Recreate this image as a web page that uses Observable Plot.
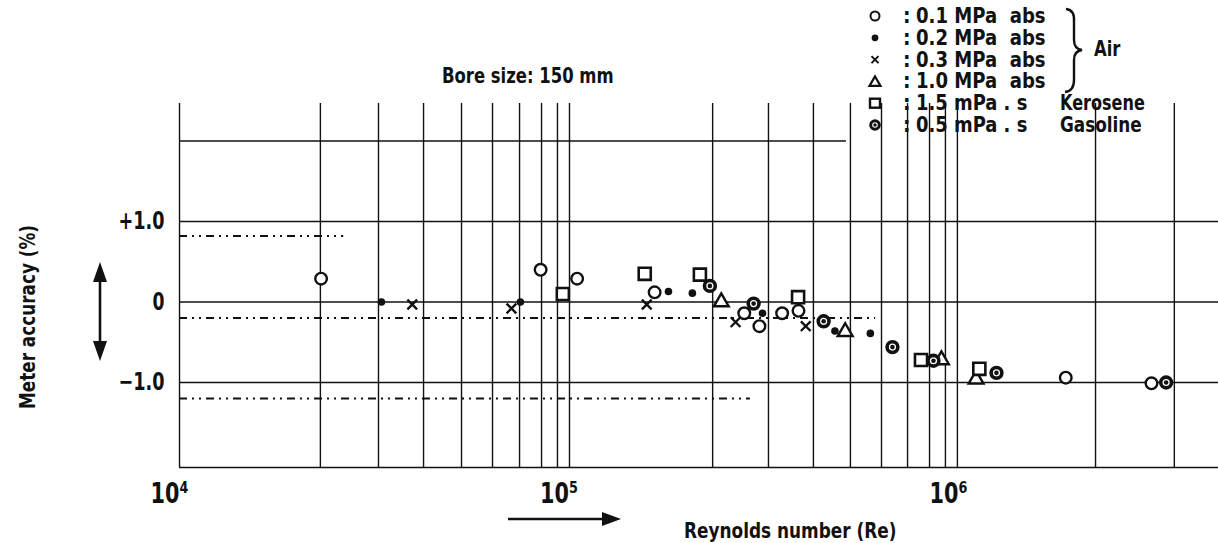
<!DOCTYPE html>
<html><head><meta charset="utf-8">
<script src="https://cdn.jsdelivr.net/npm/d3@7"></script>
<script src="https://cdn.jsdelivr.net/npm/@observablehq/plot@0.6"></script>
<style>
body{margin:0;background:#fff;}
#wrap{position:relative;width:1218px;height:543px;overflow:hidden;font-family:"Liberation Sans Narrow","DejaVu Sans Condensed","Roboto Condensed","DejaVu Sans",sans-serif;font-weight:bold;color:#111;}
.t{position:absolute;white-space:pre;line-height:22px;transform-origin:0 50%;}
#deco{position:absolute;left:0;top:0;}
</style></head><body><div id="wrap"></div>
<script>
// ---- data (Reynolds number, meter accuracy %) ----
const re01 = [2.45e4, 8.97e4, 1.113e5, 1.76e5, 2.99e5, 3.27e5, 3.74e5, 4.12e5, 2.0e6, 3.32e6];
const acc01 = [0.29, 0.40, 0.29, 0.12, -0.14, -0.30, -0.14, -0.11, -0.94, -1.01];
const re02 = [3.50e4, 7.96e4, 1.91e5, 2.20e5, 3.33e5, 5.11e5, 6.30e5];
const acc02 = [0.00, 0.00, 0.13, 0.11, -0.14, -0.36, -0.39];
const re03 = [4.20e4, 7.55e4, 1.68e5, 2.84e5, 4.30e5];
const acc03 = [-0.03, -0.08, -0.03, -0.25, -0.30];
const re10 = [2.61e5, 5.43e5, 9.59e5, 1.177e6];
const acc10 = [0.00, -0.37, -0.72, -0.96];
const reKer = [1.023e5, 1.66e5, 2.30e5, 4.11e5, 8.50e5, 1.20e6];
const accKer = [0.10, 0.35, 0.34, 0.06, -0.72, -0.83];
const reGas = [2.44e5, 3.16e5, 4.78e5, 7.18e5, 9.15e5, 1.328e6, 3.62e6];
const accGas = [0.20, -0.02, -0.24, -0.56, -0.73, -0.88, -1.00];

// grid of the original chart sheet
const gridRe = [1.061e4, 2.44e4, 3.44e4, 4.49e4, 5.62e4, 6.75e4, 7.92e4, 9.02e4, 9.91e4, 1.064e5,
                2.48e5, 3.45e5, 4.50e5, 5.60e5, 6.73e5, 7.85e5, 8.94e5, 9.82e5, 1.054e6, 2.385e6, 3.80e6];
const hLevels = [2.0, 1.0, 0, -1.0];
const hEnds = [5.47e5, 4.934e6, 4.934e6, 4.934e6];
const refLevels = [0.82, -0.2, -1.2];
const refEnds = [2.8e4, 6.5e5, 3.1e5];
const xTicks = [1e4, 1e5, 1e6];
const xTickLabels = ["10\u2074", "10\u2075", "10\u2076"];
const yTicks = [-1, 0, 1];
const yTickLabels = ["\u22121.0", "0", "+1.0"];

const legendSymbols = ["circle", "dot", "times", "triangle", "square", "gas"];
const legendLabels = ["0.1 MPa  abs", "0.2 MPa  abs", "0.3 MPa  abs", "1.0 MPa  abs", "1.5 mPa . s", "0.5 mPa . s"];
const legendFluids = ["", "", "", "", "Kerosene", "Gasoline"];

const xMin = 1e4, xMax = 4.934e6, yMin = -2.056, yMax = 2.466;
const pts = (re, acc) => re.map((r, i) => ({re: r, acc: acc[i]}));
const FONT = '"Liberation Sans Narrow","DejaVu Sans Condensed","Roboto Condensed","DejaVu Sans",sans-serif';
const INK = "#111";

const chart = Plot.plot({
  width: 1218, height: 543,
  marginLeft: 169, marginRight: 0, marginTop: 103, marginBottom: 76,
  style: {fontFamily: FONT, fontWeight: 700, color: INK, background: "white", overflow: "visible"},
  x: {type: "log", domain: [xMin, xMax], axis: null},
  y: {domain: [yMin, yMax], axis: null},
  marks: [
    Plot.ruleX(gridRe, {x: d => d, y1: () => yMin, y2: () => yMax, stroke: INK, strokeWidth: 1.4}),
    Plot.ruleY(hLevels.map((v, i) => ({v, end: hEnds[i]})), {y: "v", x1: () => gridRe[0], x2: "end", stroke: INK, strokeWidth: 1.4}),
    Plot.ruleY([yMin], {y: d => d, x1: () => gridRe[0], x2: () => xMax, stroke: INK, strokeWidth: 1.6}),
    Plot.ruleY(refLevels.map((v, i) => ({v, end: refEnds[i]})), {y: "v", x1: () => gridRe[0], x2: "end", stroke: INK, strokeWidth: 2, strokeDasharray: "8,5,2,5,2,5"}),
    Plot.text(xTicks, {x: d => d, y: () => yMin, text: (d, i) => xTickLabels[i], dy: 26, fontSize: 29, fill: INK, lineAnchor: "middle", className: "xtick"}),
    Plot.text(yTicks, {x: () => xMin, y: d => d, text: (d, i) => yTickLabels[i], dx: -5, fontSize: 24, fill: INK, textAnchor: "end", className: "ytick"}),
    Plot.dot(pts(re01, acc01), {x: "re", y: "acc", r: 5.8, stroke: INK, strokeWidth: 2.4, fill: "white"}),
    Plot.dot(pts(re02, acc02), {x: "re", y: "acc", r: 3.8, fill: INK, stroke: "none"}),
    Plot.dot(pts(re03, acc03), {x: "re", y: "acc", r: 4.5, symbol: "times", stroke: INK, strokeWidth: 2.4}),
    Plot.dot(pts(re10, acc10), {x: "re", y: "acc", r: 5.5, symbol: "triangle", stroke: INK, strokeWidth: 2.4, fill: "white"}),
    Plot.dot(pts(reKer, accKer), {x: "re", y: "acc", r: 6.8, symbol: "square", stroke: INK, strokeWidth: 2.6, fill: "white"}),
    Plot.dot(pts(reGas, accGas), {x: "re", y: "acc", r: 5.4, stroke: INK, strokeWidth: 3.6, fill: "white"}),
    Plot.dot(pts(reGas, accGas), {x: "re", y: "acc", r: 2.3, fill: INK, stroke: "none"})
  ]
});

const wrap = document.getElementById("wrap");
wrap.appendChild(chart);

// condense the tick labels like the original narrow typeface
chart.querySelectorAll(".xtick text").forEach(t => {
  t.setAttribute("textLength", 38);
  t.setAttribute("lengthAdjust", "spacingAndGlyphs");
});
const yLen = {"+1.0": 46, "0": 12, "\u22121.0": 46};
chart.querySelectorAll(".ytick text").forEach(t => {
  const L = yLen[t.textContent];
  if (L) { t.setAttribute("textLength", L); t.setAttribute("lengthAdjust", "spacingAndGlyphs"); }
});

// decorations: arrows, brace, legend symbols
const ns = "http://www.w3.org/2000/svg";
const deco = document.createElementNS(ns, "svg");
deco.setAttribute("id", "deco");
deco.setAttribute("width", 1218); deco.setAttribute("height", 543);
let html = "";
html += `<line x1="100" y1="274" x2="100" y2="348" stroke="${INK}" stroke-width="2.6"/>`;
html += `<polygon points="100,262 93,282 107,282" fill="${INK}"/>`;
html += `<polygon points="100,361 93,341 107,341" fill="${INK}"/>`;
html += `<line x1="508" y1="519" x2="606" y2="519" stroke="${INK}" stroke-width="2.6"/>`;
html += `<polygon points="621,519 602,512 602,526" fill="${INK}"/>`;
html += `<path d="M1066,9 Q1075,10 1074,22 L1074,40 Q1074,49 1082,50 Q1074,51 1074,60 L1074,80 Q1074,91 1065,92" fill="none" stroke="${INK}" stroke-width="2.4"/>`;
const rowY = i => 16 + i * 21.8;
const sx = 875;
legendSymbols.forEach((s, i) => {
  const y = rowY(i);
  if (s === "circle") html += `<circle cx="${sx}" cy="${y}" r="4.5" fill="white" stroke="${INK}" stroke-width="2"/>`;
  if (s === "dot") html += `<circle cx="${sx}" cy="${y}" r="3.4" fill="${INK}"/>`;
  if (s === "times") html += `<path d="M${sx-3.5},${y-3.5}L${sx+3.5},${y+3.5}M${sx+3.5},${y-3.5}L${sx-3.5},${y+3.5}" stroke="${INK}" stroke-width="2"/>`;
  if (s === "triangle") html += `<polygon points="${sx},${y-5} ${sx-5.5},${y+4.5} ${sx+5.5},${y+4.5}" fill="white" stroke="${INK}" stroke-width="2.2"/>`;
  if (s === "square") html += `<rect x="${sx-5}" y="${y-4.5}" width="10" height="9" fill="white" stroke="${INK}" stroke-width="2.4"/>`;
  if (s === "gas") html += `<circle cx="${sx}" cy="${y}" r="4.3" fill="white" stroke="${INK}" stroke-width="3"/><circle cx="${sx}" cy="${y}" r="1.7" fill="${INK}"/>`;
});
deco.innerHTML = html;
wrap.appendChild(deco);

// text helper: condensed look by fitting to the original width
function addText(txt, left, cy, size, width, rotate) {
  const d = document.createElement("div");
  d.className = "t";
  d.textContent = txt;
  d.style.fontSize = size + "px";
  wrap.appendChild(d);
  const w = d.offsetWidth, h = d.offsetHeight;
  const s = width ? width / w : 1;
  if (rotate) {
    d.style.left = (left - w / 2) + "px";
    d.style.top = (cy - h / 2) + "px";
    d.style.transformOrigin = "50% 50%";
    d.style.transform = `rotate(-90deg) scaleX(${s})`;
  } else {
    d.style.left = left + "px";
    d.style.top = (cy - h / 2) + "px";
    d.style.transform = `scaleX(${s})`;
  }
  return d;
}
legendLabels.forEach((l, i) => {
  const y = rowY(i);
  addText(":", 903, y, 21);
  addText(l, 916, y, 21, i < 4 ? 130 : 111);
  if (legendFluids[i]) addText(legendFluids[i], 1060, y, 21, i === 4 ? 85 : 82);
});
addText("Air", 1094, 49, 21, 26);
addText("Bore size: 150 mm", 442, 76, 22, 172);
addText("Reynolds number (Re)", 684, 531, 21, 212);
addText("Meter accuracy (%)", 28, 317, 22, 184, true);
</script></body></html>
